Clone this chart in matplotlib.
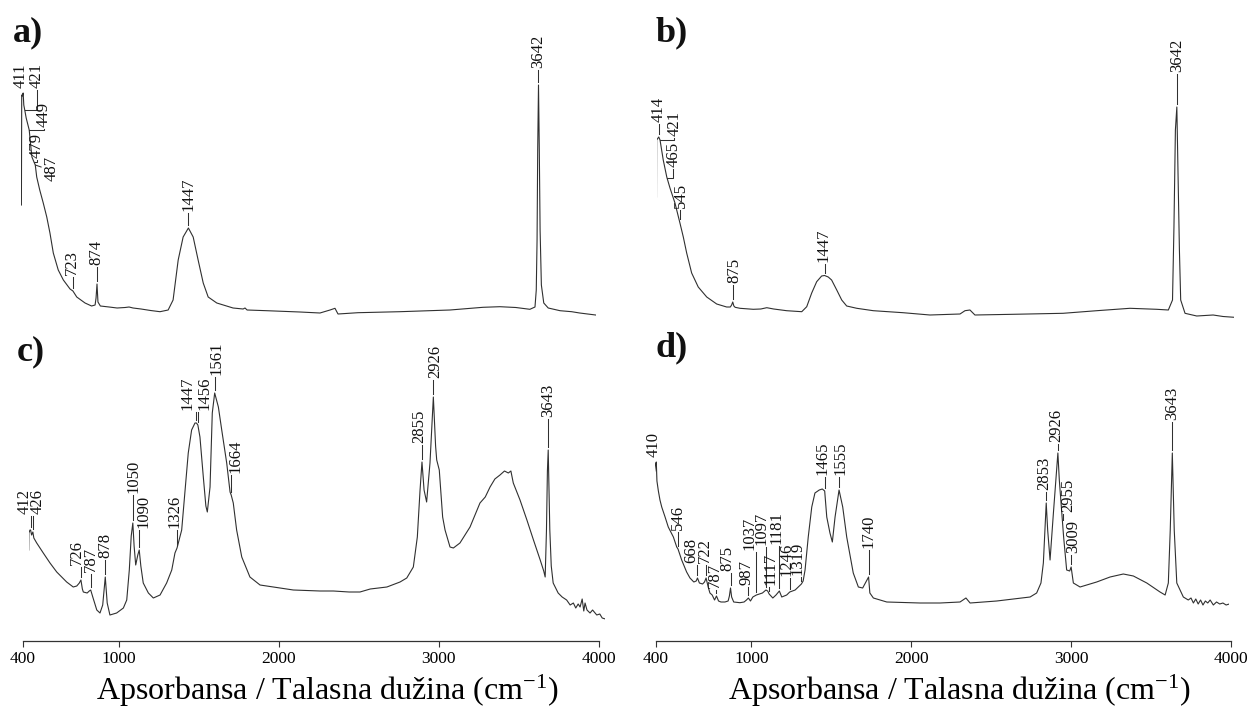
import numpy as np
import matplotlib
matplotlib.use("Agg")
import matplotlib.pyplot as plt

plt.rcParams["font.family"] = ["Liberation Serif", "DejaVu Serif"]
plt.rcParams["mathtext.fontset"] = "custom"
plt.rcParams["mathtext.rm"] = "Liberation Serif"
plt.rcParams["mathtext.it"] = "Liberation Serif:italic"
plt.rcParams["mathtext.bf"] = "Liberation Serif:bold"

# ---------------- spectra (wavenumber / cm-1, absorbance a.u.) ----------------
wn_a = [400, 402, 406, 411, 415, 421, 430, 449, 458, 466, 479, 487, 496, 515, 537,
        559, 579, 600, 631, 663, 705, 723, 747, 799, 840, 862, 868, 874, 880, 895,
        950, 1000, 1050, 1075, 1100, 1150, 1210, 1269, 1320, 1351, 1383, 1414, 1447,
        1477, 1508, 1540, 1571, 1625, 1727, 1790, 1802, 1815, 1938, 2146, 2272, 2335,
        2366, 2385, 2510, 2773, 3087, 3294, 3400, 3500, 3588, 3620, 3628, 3633, 3637,
        3642, 3647, 3652, 3660, 3675, 3703, 3777, 3850, 3900, 3950, 4000]
abs_a = [1.15, 2.25, 2.24, 2.27, 2.15, 2.10, 2.02, 1.90, 1.75, 1.63, 1.58, 1.55, 1.43,
         1.30, 1.17, 1.03, 0.87, 0.67, 0.50, 0.40, 0.31, 0.29, 0.23, 0.17, 0.14, 0.15,
         0.22, 0.36, 0.18, 0.14, 0.13, 0.12, 0.125, 0.13, 0.12, 0.11, 0.095, 0.083,
         0.10, 0.20, 0.60, 0.83, 0.92, 0.83, 0.60, 0.37, 0.23, 0.17, 0.12, 0.11, 0.12,
         0.10, 0.093, 0.08, 0.07, 0.10, 0.117, 0.06, 0.073, 0.083, 0.10, 0.127, 0.133,
         0.125, 0.107, 0.13, 0.30, 0.80, 1.70, 2.35, 1.70, 0.90, 0.35, 0.17, 0.12,
         0.093, 0.083, 0.07, 0.06, 0.05]

wn_b = [400, 401, 414, 422, 442, 464, 484, 515, 546, 567, 588, 619, 660, 713, 775,
        837, 860, 868, 875, 882, 890, 920, 1003, 1050, 1087, 1130, 1211, 1305, 1336,
        1367, 1398, 1429, 1447, 1470, 1491, 1523, 1554, 1585, 1648, 1751, 1936, 2104,
        2291, 2322, 2353, 2384, 2621, 2933, 3143, 3350, 3517, 3589, 3615, 3624, 3633,
        3642, 3649, 3658, 3666, 3693, 3766, 3868, 3930, 4000]
abs_b = [1.23, 1.80, 1.83, 1.80, 1.60, 1.43, 1.32, 1.17, 0.97, 0.83, 0.67, 0.47, 0.33,
         0.23, 0.16, 0.13, 0.13, 0.15, 0.18, 0.14, 0.127, 0.117, 0.107, 0.11, 0.123,
         0.11, 0.093, 0.083, 0.133, 0.27, 0.383, 0.44, 0.445, 0.43, 0.40, 0.30, 0.20,
         0.14, 0.117, 0.093, 0.073, 0.05, 0.06, 0.093, 0.10, 0.05, 0.057, 0.067, 0.093,
         0.117, 0.107, 0.10, 0.20, 0.93, 1.90, 2.13, 1.50, 0.70, 0.20, 0.067, 0.04,
         0.05, 0.035, 0.027]

wn_c = [400, 401, 408, 412, 418, 426, 432, 450, 491, 533, 575, 637, 678, 700, 716, 726,
        735, 741, 765, 778, 787, 800, 825, 845, 862, 878, 890, 907, 949, 991, 1012,
        1028, 1040, 1050, 1058, 1068, 1081, 1090, 1100, 1115, 1147, 1178, 1220, 1261,
        1293, 1313, 1326, 1355, 1376, 1396, 1417, 1438, 1447, 1456, 1469, 1490, 1506,
        1515, 1532, 1546, 1561, 1584, 1605, 1636, 1657, 1664, 1677, 1698, 1730, 1781,
        1844, 1927, 2052, 2218, 2302, 2400, 2468, 2532, 2636, 2718, 2760, 2801, 2826,
        2843, 2855, 2868, 2884, 2905, 2926, 2940, 2947, 2963, 2984, 2999, 3030, 3051,
        3092, 3155, 3217, 3250, 3280, 3310, 3342, 3370, 3394, 3410, 3425, 3467, 3510,
        3551, 3593, 3615, 3624, 3632, 3638, 3643, 3648, 3653, 3662, 3674, 3705, 3730,
        3758, 3780, 3800, 3815, 3830, 3842, 3855, 3865, 3873, 3885, 3904, 3920, 3946,
        3965, 3980, 4000]
abs_c = [0.91, 1.08, 1.11, 1.11, 1.06, 1.09, 1.03, 0.98, 0.88, 0.78, 0.69, 0.59, 0.54,
         0.55, 0.58, 0.61, 0.52, 0.49, 0.48, 0.50, 0.51, 0.44, 0.31, 0.28, 0.36, 0.64,
         0.38, 0.26, 0.28, 0.33, 0.41, 0.71, 1.05, 1.18, 0.95, 0.76, 0.86, 0.91, 0.75,
         0.58, 0.48, 0.43, 0.46, 0.58, 0.71, 0.88, 0.93, 1.11, 1.51, 1.88, 2.11, 2.18,
         2.18, 2.16, 2.04, 1.64, 1.35, 1.29, 1.54, 2.28, 2.48, 2.34, 2.11, 1.78, 1.49,
         1.46, 1.38, 1.11, 0.84, 0.64, 0.56, 0.54, 0.51, 0.50, 0.50, 0.49, 0.49, 0.52,
         0.54, 0.59, 0.63, 0.74, 1.04, 1.51, 1.79, 1.51, 1.39, 1.78, 2.44, 1.95, 1.81,
         1.71, 1.24, 1.11, 0.94, 0.93, 0.98, 1.14, 1.38, 1.44, 1.54, 1.62, 1.66, 1.70,
         1.68, 1.70, 1.58, 1.41, 1.21, 1.01, 0.81, 0.70, 0.64, 1.10, 1.70, 1.91, 1.50,
         1.11, 0.75, 0.58, 0.48, 0.44, 0.41, 0.36, 0.38, 0.33, 0.37, 0.34, 0.42, 0.30,
         0.38, 0.31, 0.28, 0.31, 0.26, 0.27, 0.23, 0.22]

wn_d = [400, 404, 410, 414, 423, 433, 444, 465, 485, 517,
        538, 546, 569, 600, 621, 645, 660, 668, 680, 700,
        712, 722, 735, 746, 760, 775, 787, 800, 815, 840,
        860, 868, 875, 882, 895, 934, 960, 975, 987, 1000,
        1015, 1037, 1055, 1075, 1097, 1108, 1117, 1140, 1160, 1181,
        1196, 1227, 1246, 1280, 1300, 1319, 1330, 1342, 1362, 1384,
        1404, 1431, 1450, 1465, 1478, 1498, 1513, 1530, 1555, 1578,
        1603, 1644, 1676, 1703, 1720, 1733, 1740, 1748, 1770, 1854,
        2062, 2188, 2313, 2350, 2376, 2543, 2752, 2793, 2820, 2835,
        2853, 2862, 2877, 2898, 2926, 2935, 2955, 2962, 2981, 3000,
        3009, 3023, 3065, 3169, 3253, 3336, 3399, 3483, 3566, 3598,
        3618, 3630, 3643, 3655, 3671, 3712, 3743, 3760, 3775, 3790,
        3805, 3820, 3835, 3850, 3865, 3880, 3900, 3920, 3940, 3960,
        3980, 4000]
abs_d = [1.70, 1.76, 1.79, 1.60, 1.50, 1.41, 1.34, 1.24, 1.14, 1.04,
         0.94, 0.92, 0.81, 0.69, 0.63, 0.59, 0.60, 0.63, 0.58, 0.57,
         0.59, 0.63, 0.54, 0.48, 0.46, 0.41, 0.45, 0.40, 0.39, 0.39,
         0.40, 0.45, 0.53, 0.44, 0.39, 0.383, 0.39, 0.41, 0.43, 0.40,
         0.44, 0.46, 0.47, 0.48, 0.51, 0.50, 0.47, 0.43, 0.46, 0.50,
         0.44, 0.46, 0.49, 0.51, 0.54, 0.57, 0.60, 0.71, 1.04, 1.34,
         1.48, 1.51, 1.52, 1.50, 1.24, 1.08, 0.99, 1.24, 1.51, 1.34,
         1.04, 0.68, 0.54, 0.53, 0.58, 0.62, 0.64, 0.48, 0.43, 0.39,
         0.38, 0.38, 0.39, 0.43, 0.38, 0.40, 0.44, 0.48, 0.58, 0.78,
         1.38, 1.11, 0.81, 1.28, 1.88, 1.61, 1.18, 1.04, 0.71, 0.70,
         0.74, 0.58, 0.54, 0.59, 0.64, 0.67, 0.65, 0.58, 0.49, 0.46,
         0.58, 1.11, 1.88, 1.11, 0.58, 0.44, 0.41, 0.43, 0.38, 0.42,
         0.37, 0.41, 0.36, 0.40, 0.38, 0.41, 0.36, 0.39, 0.37, 0.38,
         0.36, 0.37]

# ---------------- peak labels: text, band, text x, text bottom, connector ----------------
labels_a = [("411", 411, 393, 2.32, "v"), ("421", 421, 497, 2.32, "elbow"),
            ("449", 449, 540, 1.93, "elbow"), ("479", 479, 498, 1.62, "elbow"),
            ("487", 487, 592, 1.52, "side"), ("723", 723, 718, 0.45, "v"),
            ("874", 874, 872, 0.55, "v"), ("1447", 1447, 1445, 1.09, "v"),
            ("3642", 3642, 3642, 2.52, "v")]
labels_b = [("414", 414, 415, 1.98, "v"), ("421", 421, 510, 1.84, "elbow"),
            ("465", 465, 505, 1.53, "elbow"), ("545", 545, 552, 1.12, "v"),
            ("875", 875, 884, 0.37, "v"), ("1447", 1447, 1440, 0.58, "v"),
            ("3642", 3642, 3644, 2.48, "v")]
labels_c = [("412", 412, 375, 1.27, "v"), ("426", 426, 458, 1.27, "v"),
            ("726", 726, 700, 0.76, "v"), ("787", 787, 788, 0.69, "v"),
            ("878", 878, 881, 0.83, "v"), ("1050", 1050, 1052, 1.48, "v"),
            ("1090", 1090, 1114, 1.13, "v"), ("1326", 1326, 1310, 1.13, "v"),
            ("1447", 1447, 1390, 2.31, "v"), ("1456", 1456, 1495, 2.31, "v"),
            ("1561", 1561, 1570, 2.66, "v"), ("1664", 1664, 1693, 1.68, "v"),
            ("2855", 2855, 2837, 1.98, "v"), ("2926", 2926, 2936, 2.63, "v"),
            ("3643", 3643, 3643, 2.24, "v")]
labels_d = [("410", 410, 396, 1.84, "v"), ("546", 546, 546, 1.11, "v"),
            ("668", 668, 628, 0.78, "v"), ("722", 722, 713, 0.78, "v"),
            ("787", 787, 778, 0.53, "v"), ("875", 875, 855, 0.70, "v"),
            ("987", 987, 976, 0.56, "v"), ("1037", 1037, 993, 0.91, "v"),
            ("1097", 1097, 1068, 0.96, "v"), ("1117", 1117, 1128, 0.56, "v"),
            ("1181", 1181, 1164, 0.97, "v"), ("1246", 1246, 1226, 0.65, "v"),
            ("1319", 1319, 1292, 0.66, "v"), ("1465", 1465, 1452, 1.66, "v"),
            ("1555", 1555, 1562, 1.66, "v"), ("1740", 1740, 1737, 0.93, "v"),
            ("2853", 2853, 2840, 1.51, "v"), ("2926", 2926, 2914, 1.99, "v"),
            ("2955", 2955, 2991, 1.29, "v"), ("3009", 3009, 3019, 0.88, "v"),
            ("3643", 3643, 3645, 2.21, "v")]

panel_letters = ["a)", "b)", "c)", "d)"]
tick_values = [400, 1000, 2000, 3000, 4000]
xlabel_text = "Apsorbansa / Talasna dužina (cm$^{\\mathregular{-1}}$)"

# ---------------- layout ----------------
W, H = 1252, 709
fig = plt.figure(figsize=(W / 100, H / 100), dpi=100)
LINE = "#303030"
LABEL_FS = 12


def px_axes(x0, x1, y0, y1):
    return fig.add_axes([x0 / W, (H - y1) / H, (x1 - x0) / W, (y1 - y0) / H])


def spectrum_panel(x0, x1, y0, y1, ymax, wn, ab, labels):
    ax = px_axes(x0, x1, y0, y1)
    ax.set_xlim(400, 4000)
    ax.set_ylim(0, ymax)
    ax.axis("off")
    ax.plot(wn, ab, color=LINE, lw=0.8, solid_joinstyle="round")
    for text, band, tx, ty, kind in labels:
        yb = float(np.interp(band, wn, ab))
        if kind == "side":
            ax.annotate(text, xy=(band, yb), xytext=(tx, ty), rotation=90,
                        ha="center", va="center", fontsize=LABEL_FS, color="#111111",
                        arrowprops=dict(arrowstyle="-", lw=0.75, color=LINE,
                                        shrinkA=0, shrinkB=0, relpos=(0, 0.5)))
            continue
        ax.text(tx, ty, text, rotation=90, ha="center", va="bottom",
                fontsize=LABEL_FS, color="#111111")
        if kind == "elbow":
            ax.plot([band, tx, tx], [yb, yb, ty - 0.02], color=LINE, lw=0.75)
        else:
            ax.plot([band, band], [yb + 0.03, ty - 0.02], color=LINE, lw=0.75)
    return ax


def scale_axis(x0, x1, y0, y1):
    ax = px_axes(x0, x1, y0, y1)
    ax.set_xlim(400, 4000)
    ax.patch.set_visible(False)
    for side in ("top", "left", "right"):
        ax.spines[side].set_visible(False)
    ax.spines["bottom"].set_color("#333333")
    ax.spines["bottom"].set_linewidth(0.9)
    ax.set_yticks([])
    ax.set_xticks(tick_values)
    ax.set_xticklabels([str(v) for v in tick_values])
    ax.tick_params(axis="x", direction="out", length=4.0, width=0.8,
                   color="#333333", labelsize=12.5, pad=3.5)
    ax.set_xlabel(xlabel_text, fontsize=23)
    ax.xaxis.set_label_coords(0.528, -(673 - 641) / (y1 - y0))
    return ax


spectrum_panel(21.4, 595.6, 40, 320, 2.8, wn_a, abs_a, labels_a)
spectrum_panel(656.5, 1234.3, 40, 320, 2.8, wn_b, abs_b, labels_b)
scale_axis(22.5, 599, 330, 641)
spectrum_panel(28.7, 605.4, 330, 641, 3.11, wn_c, abs_c, labels_c)
scale_axis(655.5, 1231, 330, 641)
spectrum_panel(654.7, 1229.3, 330, 641, 3.11, wn_d, abs_d, labels_d)

for letter, (lx, ly) in zip(panel_letters, [(13, 16), (656, 16), (17, 335), (655, 331)]):
    fig.text(lx / W, 1 - ly / H, letter, ha="left", va="top",
             fontsize=26, fontweight="bold", color="#111111")

fig.savefig("out.png", dpi=100)
